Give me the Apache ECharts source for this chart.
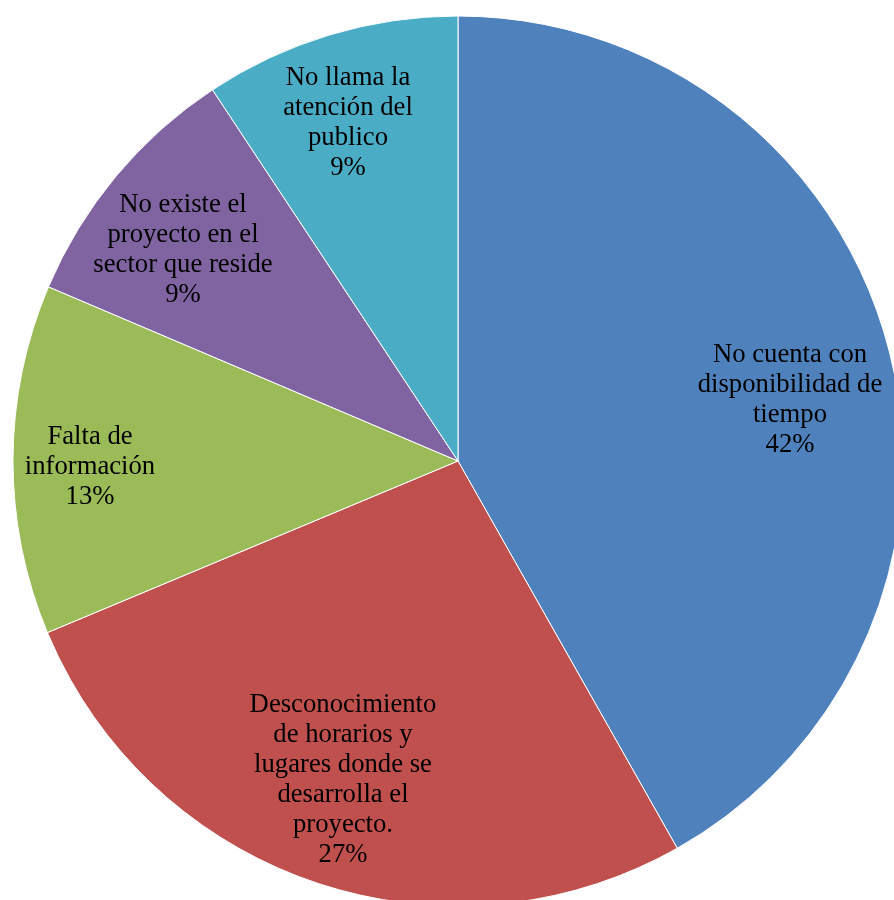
<!DOCTYPE html>
<html>
<head>
<meta charset="utf-8">
<script src="https://cdn.jsdelivr.net/npm/echarts@6/dist/echarts.min.js"></script>
<style>
html,body{margin:0;padding:0;background:#fff;}
#main{width:894px;height:900px;}
</style>
</head>
<body>
<div id="main"></div>
<script>
const categories = [
  "No cuenta con\ndisponibilidad de\ntiempo",
  "Desconocimiento\nde horarios y\nlugares donde se\ndesarrolla el\nproyecto.",
  "Falta de\ninformación",
  "No existe el\nproyecto en el\nsector que reside",
  "No llama la\natención del\npublico"
];
const values = [41.8, 26.9, 12.7, 9.3, 9.3];
const colors = ["#4F81BD", "#C0504D", "#9BBB59", "#8064A2", "#4BACC6"];

const labelSpots = [[790, 400], [343, 780], [90, 467], [183, 250], [348, 123]];

const chart = echarts.init(document.getElementById('main'));
chart.setOption({
  animation: false,
  series: [{
    type: 'pie',
    center: [458, 461],
    radius: 445,
    startAngle: 90,
    clockwise: true,
    data: categories.map((c, i) => ({ name: c, value: values[i], itemStyle: { color: colors[i] } })),
    itemStyle: { borderColor: '#ffffff', borderWidth: 1 },
    label: {
      show: true,
      position: 'inside',
      formatter: p => p.name + '\n' + Math.round(p.percent) + '%',
      fontFamily: '"Liberation Serif", "Times New Roman", serif',
      fontSize: 26.7,
      lineHeight: 30,
      color: '#000',
      align: 'center'
    },
    labelLine: { show: false },
    labelLayout: function (p) {
      const s = labelSpots[p.dataIndex];
      return { x: s[0], y: s[1], align: 'center', verticalAlign: 'middle' };
    },
    emphasis: { disabled: true }
  }]
});
</script>
</body>
</html>
